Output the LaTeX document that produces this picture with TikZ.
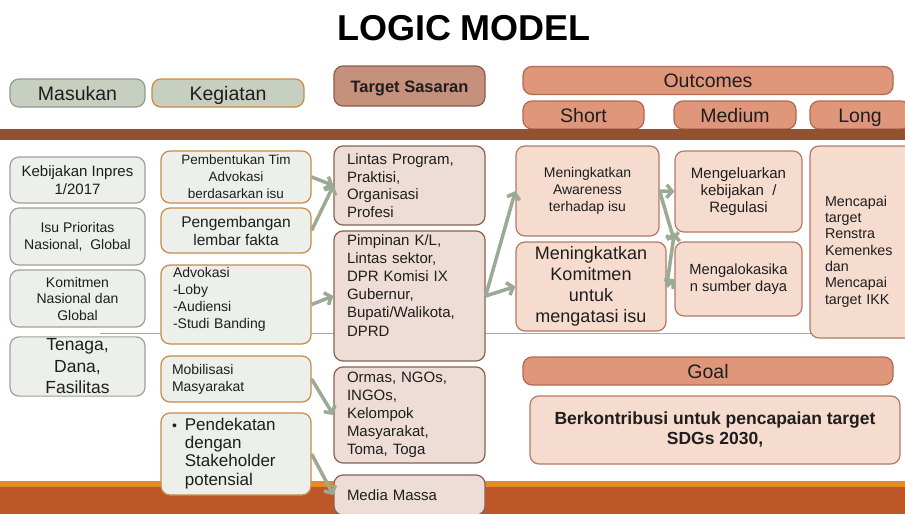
\documentclass[tikz,border=0pt]{standalone}
\usepackage{fontspec}
\setmainfont{Liberation Sans}
\usetikzlibrary{arrows.meta}
\definecolor{txt}{HTML}{1E1E1E}
\definecolor{hgfill}{HTML}{C7CFC1}
\definecolor{hgdraw}{HTML}{8F9C8C}
\definecolor{korange}{HTML}{C88B46}
\definecolor{mfill}{HTML}{EDEFEA}
\definecolor{mdraw}{HTML}{9CA199}
\definecolor{tgfill}{HTML}{C6917C}
\definecolor{tgdraw}{HTML}{8C5C4A}
\definecolor{tfill}{HTML}{EEDDD6}
\definecolor{tdraw}{HTML}{8B6152}
\definecolor{ofill}{HTML}{F6DBCF}
\definecolor{odraw}{HTML}{B57A64}
\definecolor{sfill}{HTML}{E0967A}
\definecolor{sdraw}{HTML}{B06A52}
\definecolor{band}{HTML}{91532F}
\definecolor{bandlo}{HTML}{BE5728}
\definecolor{bandhi}{HTML}{E6892C}
\definecolor{arrc}{HTML}{9AAA93}
\definecolor{rulec}{HTML}{A8A8A8}
\newcommand{\fsz}[2]{\fontsize{#1}{#2}\selectfont}
\newcommand{\liftbox}[2]{\raisebox{#1}[\height][\depth]{\begin{tabular}{@{}l@{}}#2\end{tabular}}}
\begin{document}
\begin{tikzpicture}[x=1pt,y=-1pt,
  box/.style={rounded corners=9pt, line width=1.2pt, text=txt, inner sep=2pt},
  hgreen/.style={box, fill=hgfill, draw=hgdraw, minimum height=28, text height=14.5, text depth=0.5, font=\fsz{19.5}{22}},
  hsalmon/.style={box, fill=sfill, draw=sdraw, minimum height=28, text height=14.5, text depth=0.5, font=\fsz{19.5}{22}},
  mbox/.style={box, fill=mfill, draw=mdraw, align=center, minimum width=135},
  kbox/.style={box, fill=mfill, draw=korange, minimum width=150},
  tbox/.style={box, fill=tfill, draw=tdraw, text width=125, inner xsep=13, align=left},
  obox/.style={box, fill=ofill, draw=odraw, align=center},
  arr/.style={draw=arrc, line width=3.5pt, -{Straight Barb[length=5.5pt,width=13pt]}}
]
\useasboundingbox (0,0) rectangle (905,514);
\fill[white] (0,0) rectangle (905,514);

% bands
\fill[band] (0,129) rectangle (905,140);
\fill[bandhi] (0,481) rectangle (905,487);
\fill[bandlo] (0,487) rectangle (905,514);
\draw[rulec, line width=0.8pt] (100,333) -- (905,333);

% title
\node[font=\bfseries\fsz{36}{40}, text=black] (title) at (464,28) {LOGIC MODEL};

% headers
\node[hgreen, minimum width=135] (hmas) at (77.5,93) {Masukan};
\node[hgreen, draw=korange, minimum width=152] (hkeg) at (228,93) {Kegiatan};
\node[box, fill=tgfill, draw=tgdraw, minimum width=151, minimum height=40, text height=12, text depth=0, font=\bfseries\fsz{16.5}{19}] (htgt) at (409.5,86) {Target Sasaran};
\node[hsalmon, minimum width=370] (hout) at (708,80.5) {Outcomes};
\node[hsalmon, minimum width=121] (hshort) at (583.5,115) {Short};
\node[hsalmon, minimum width=122] (hmed) at (735,115) {Medium};
\node[hsalmon, minimum width=100] (hlong) at (860,115) {Long};
\fill[band] (500,129) rectangle (905,140);

% Masukan
\node[mbox, minimum height=46, font=\fsz{15}{18}] (m1) at (77.5,180) {Kebijakan Inpres\\1/2017};
\node[mbox, minimum height=57, font=\fsz{14}{17}] (m2) at (77.5,236.5) {Isu Prioritas\\Nasional,\ \ Global};
\node[mbox, minimum height=57, font=\fsz{14}{16.5}] (m3) at (77.5,298.5) {Komitmen\\Nasional dan\\Global};
\node[mbox, minimum height=59, font=\fsz{17.5}{21.5}] (m4) at (77.5,366.5) {Tenaga,\\Dana,\\Fasilitas};

% Kegiatan
\node[kbox, minimum height=52, align=center, font=\fsz{13.5}{17}] (k1) at (236,177) {Pembentukan Tim\\Advokasi\\berdasarkan isu};
\node[kbox, minimum height=45, align=center, font=\fsz{15.5}{18}] (k2) at (236,230.5) {Pengembangan\\lembar fakta};
\node[kbox, minimum height=79, text width=126, inner xsep=12, align=left, font=\fsz{14}{17}] (k3) at (236,304.5) {\liftbox{5pt}{Advokasi\\-Loby\\-Audiensi\\-Studi Banding}};
\node[kbox, minimum height=46, text width=128, inner xsep=11, align=left, font=\fsz{14}{17}] (k4) at (236,379) {Mobilisasi\\Masyarakat};
\node[kbox, minimum height=82, text width=128, inner xsep=11, align=left, font=\fsz{17}{18.3}] (k5) at (236,454) {\begin{tabular}{@{}l@{\hspace{8pt}}l@{}}{\fsz{14}{18.3}\textbullet} & Pendekatan\\ & dengan\\ & Stakeholder\\ & potensial\end{tabular}};

% Target Sasaran
\node[tbox, minimum height=79, font=\fsz{15}{17.5}] (t1) at (409.5,185.5) {Lintas Program,\\Praktisi,\\Organisasi\\Profesi};
\node[tbox, minimum height=130, font=\fsz{15}{18.2}] (t2) at (409.5,296) {\liftbox{9pt}{Pimpinan K/L,\\Lintas sektor,\\DPR Komisi IX\\Gubernur,\\Bupati/Walikota,\\DPRD}};
\node[tbox, minimum height=96, font=\fsz{15}{18}] (t3) at (409.5,415) {Ormas, NGOs,\\INGOs,\\Kelompok\\Masyarakat,\\Toma, Toga};
\node[tbox, minimum height=40, font=\fsz{15}{18}] (t4) at (409.5,495) {Media Massa};

% Outcomes
\node[obox, minimum width=143, minimum height=90, font=\fsz{14}{16.7}] (o1) at (587.5,191) {Meningkatkan\\Awareness\\terhadap isu};
\node[obox, minimum width=150, minimum height=89, font=\fsz{18}{21}] (o2) at (591,286.5) {Meningkatkan\\Komitmen\\untuk\\mengatasi isu};
\node[obox, minimum width=127, minimum height=81, font=\fsz{15}{17}] (o3) at (738.5,191.5) {Mengeluarkan\\kebijakan\ \ /\\Regulasi};
\node[obox, minimum width=127, minimum height=74, font=\fsz{14.7}{17}] (o4) at (738.5,279) {Mengalokasika\\n sumber daya};
\node[obox, minimum height=192, text width=80, inner xsep=15, align=left, font=\fsz{14.3}{16.3}] (o5) at (865,242) {\liftbox{-10pt}{Mencapai\\target\\Renstra\\Kemenkes\\dan\\Mencapai\\target IKK}};

% Goal
\node[hsalmon, minimum width=370] (hgoal) at (708,371) {Goal};
\node[obox, minimum width=370, minimum height=68, font=\bfseries\fsz{17.5}{20}] (goal) at (715,430) {Berkontribusi untuk pencapaian target\\SDGs 2030,};

% arrows
\draw[arr] (k1.east) -- (t1.west);
\draw[arr] (k2.east) -- (t1.west);
\draw[arr] (k3.east) -- (t2.west);
\draw[arr] (k4.east) -- (t3.west);
\draw[arr] (k5.east) -- (t4.west);
\draw[arr] (t2.east) -- (o1.west);
\draw[arr] (t2.east) -- (o2.west);
\draw[arr] (o1.east) -- (o3.west);
\draw[arr] (o1.east) -- (o4.north west);
\draw[arr] (o2.east) -- (o3.south west);
\draw[arr] (o2.east) -- (o4.west);
\end{tikzpicture}
\end{document}
